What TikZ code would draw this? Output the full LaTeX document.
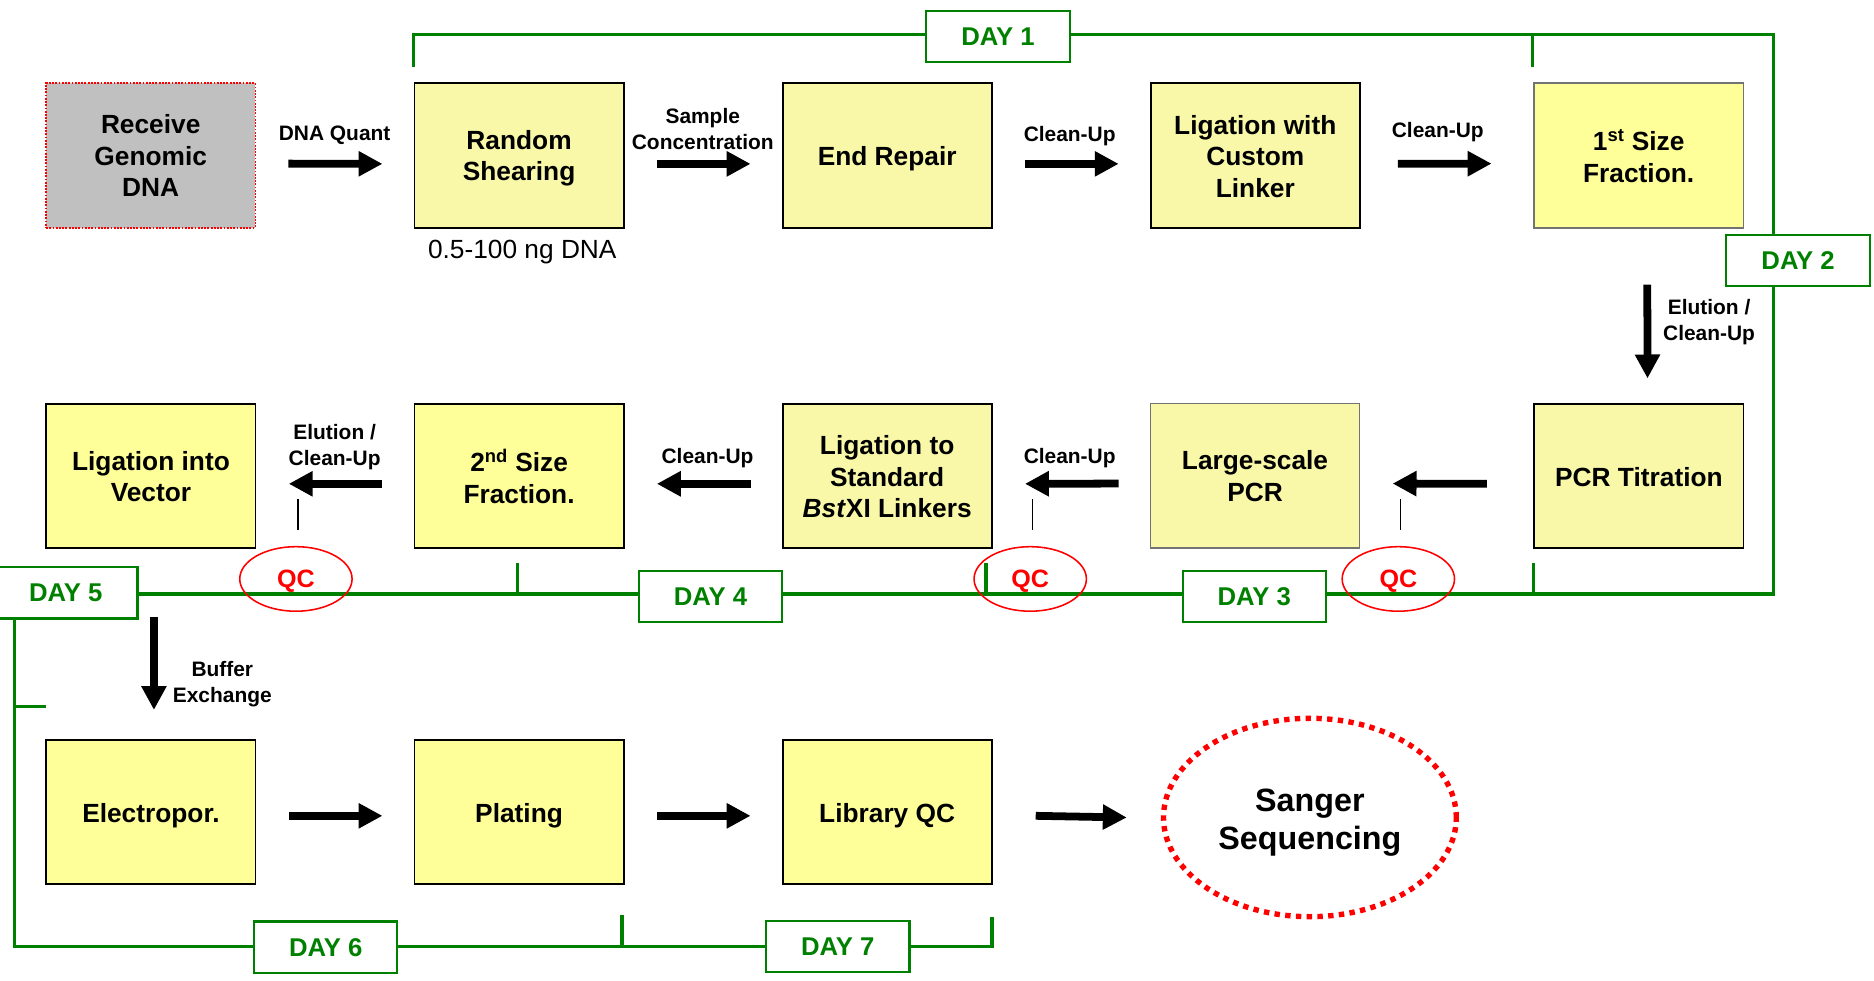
\documentclass[tikz,border=0pt]{standalone}
\usepackage{fontspec}
\setmainfont{Liberation Sans}
\usetikzlibrary{arrows.meta,calc,shapes.geometric,backgrounds}
\definecolor{boxA}{HTML}{F8F8A8}
\definecolor{boxB}{HTML}{FFFF99}
\definecolor{dgreen}{HTML}{008000}
\definecolor{grayfill}{HTML}{C0C0C0}
\begin{document}
\begin{tikzpicture}[x=1pt,y=-1pt,
  procbox/.style={draw=black, line width=1.6pt, fill=boxA, minimum width=175pt, minimum height=121pt,
    inner sep=0pt, anchor=north west},
  brightbox/.style={procbox, fill=boxB},
  graybox/.style={draw=black!55, line width=1.2pt},
  boxtext/.style={inner sep=0pt, align=center, yshift=-0.5pt, font=\bfseries\fontsize{22}{26.5}\selectfont},
  lbl/.style={inner sep=0pt, align=center, font=\bfseries\fontsize{17.5}{21.5}\selectfont},
  daybox/.style={draw=dgreen, line width=1.8pt, fill=white, minimum width=120pt, minimum height=43pt,
    inner sep=0pt, text=dgreen, font=\bfseries\fontsize{21.5}{25}\selectfont},
  qc/.style={ellipse, draw=red, line width=1.3pt, minimum width=94pt, minimum height=54pt, inner sep=0pt},
  qctext/.style={inner sep=0pt, text=red, yshift=-1.5pt, font=\bfseries\fontsize{21}{25}\selectfont},
  bigarr/.style={line width=6.5pt, -{Triangle[width=20pt,length=20pt]}},
  gline/.style={draw=dgreen, line width=2.8pt},
  thinl/.style={draw=black, line width=1pt}]
\useasboundingbox (0,0) rectangle (1568,820);

% Row 1
\node[procbox, fill=grayfill, draw=red, line width=1.2pt, dash pattern=on 1.5pt off 1.2pt,
  label={[boxtext,yshift=0.5pt]center:{Receive\\Genomic\\DNA}}] (recv) at (38,69) {};
\node[procbox, label={[boxtext,yshift=-1.5pt]center:{Random\\Shearing}}] (shear) at (346,69) {};
\node[procbox, label={[boxtext,yshift=-2pt]center:{End Repair}}] (endr) at (654,69) {};
\node[procbox, label={[boxtext]center:{Ligation with\\Custom\\Linker}}] (lig1) at (962,69) {};
\node[brightbox, graybox, label={[boxtext]center:{1\textsuperscript{st} Size\\Fraction.}}] (frac1) at (1283,69) {};

% Row 2
\node[brightbox, label={[boxtext]center:{Ligation into\\Vector}}] (vec) at (38,337) {};
\node[brightbox, label={[boxtext]center:{2\textsuperscript{nd} Size\\Fraction.}}] (frac2) at (346,337) {};
\node[procbox, label={[boxtext]center:{Ligation to\\Standard\\\textit{Bst}XI Linkers}}] (lig2) at (654,337) {};
\node[procbox, graybox, label={[boxtext]center:{Large-scale\\PCR}}] (lpcr) at (962,337) {};
\node[procbox, label={[boxtext]center:{PCR Titration}}] (pcrt) at (1283,337) {};

% Row 3
\node[brightbox, label={[boxtext,yshift=-2.5pt]center:{Electropor.}}] (elec) at (38,618) {};
\node[brightbox, label={[boxtext,yshift=-2.5pt]center:{Plating}}] (plat) at (346,618) {};
\node[brightbox, label={[boxtext,yshift=-2.5pt]center:{Library QC}}] (libqc) at (654,618) {};
\node[ellipse, draw=red, line width=4.5pt, dash pattern=on 4.5pt off 4.5pt, minimum width=245pt, minimum height=166pt,
  inner sep=0pt, label={[inner sep=0pt, align=center, yshift=-4pt, font=\bfseries\fontsize{27}{32}\selectfont]center:{Sanger\\Sequencing}}] (sanger) at (1096,684) {};

% QC ellipses
\node[qc, label={[qctext]center:QC}] (qc1) at (247.6,484.4) {};
\node[qc, label={[qctext]center:QC}] (qc2) at (862,484.4) {};
\node[qc, label={[qctext]center:QC}] (qc3) at (1170,484.4) {};

% Day boxes
\node[daybox] (day1) at (835,30.5) {DAY 1};
\node[daybox] (day2) at (1504.5,218) {DAY 2};
\node[daybox] (day3) at (1049.5,499) {DAY 3};
\node[daybox] (day4) at (594.5,499) {DAY 4};
\node[daybox] (day5) at (55,496) {DAY 5};
\node[daybox] (day6) at (272.5,792.5) {DAY 6};
\node[daybox] (day7) at (701,792) {DAY 7};

% Green timeline (drawn behind the day boxes)
\coordinate (tl) at (346,29);
\coordinate (tr) at (1484,29);
\coordinate (br) at (1484,497);
\coordinate (bl) at (12,497);
\coordinate (bb) at (12,792);
\coordinate (be) at (830,792);
\begin{scope}[on background layer]
\draw[gline] ($(tl)+(0,26.8)$) -- (tl) -- (tr) -- (br) -- (bl) -- (bb) -- (be) -- ($(be)+(0,-25)$);
\draw[gline] (1282,29) -- (1282,55.8);
\draw[gline] (433,497) -- (433,471.4);
\draw[gline] (825,497) -- (825,471.4);
\draw[gline] (1283,497) -- (1283,471.4);
\draw[gline] (12,591.3) -- (38.6,591.3);
\draw[gline] (520.3,792) -- (520.3,765.7);
\end{scope}

% Row 1 arrows
\draw[bigarr] ($(recv.east)+(27,6.8)$) -- ($(shear.west)+(-26,6.8)$);
\draw[bigarr] ($(shear.east)+(27,6.8)$) -- ($(endr.west)+(-26,6.8)$);
\draw[bigarr] ($(endr.east)+(27,6.8)$) -- ($(lig1.west)+(-26,6.8)$);
\draw[bigarr] ($(lig1.east)+(31,6.8)$) -- ($(frac1.west)+(-35,6.8)$);
\draw[bigarr] ($(frac1.south)+(7.2,47)$) -- ($(pcrt.north)+(7.2,-20.4)$);

% Row 2 arrows
\draw[bigarr] ($(pcrt.west)+(-39,6.5)$) -- ($(lpcr.east)+(27,6.5)$);
\draw[bigarr] ($(lpcr.west)+(-26,6.5)$) -- ($(lig2.east)+(27,6.5)$);
\draw[bigarr] ($(lig2.west)+(-26,6.5)$) -- ($(frac2.east)+(27,6.5)$);
\draw[bigarr] ($(frac2.west)+(-26,6.5)$) -- ($(vec.east)+(27,6.5)$);
\draw[bigarr] ($(vec.south)+(2.5,56.6)$) -- ($(elec.north)+(2.5,-24)$);

% Row 3 arrows
\draw[bigarr] ($(elec.east)+(27,3.3)$) -- ($(plat.west)+(-26,3.3)$);
\draw[bigarr] ($(plat.east)+(27,3.3)$) -- ($(libqc.west)+(-26,3.3)$);
\coordinate (a3) at ($(libqc.east)+(36,3.3)$);
\draw[bigarr] (a3) -- ($(sanger.west)+(-28.5,0)$ |- a3);

% thin QC lines
\draw[thinl] ($(qc1.north)+(1.8,-13.5)$) -- ($(qc1.north)+(1.8,-39.5)$);
\draw[thinl] ($(qc2.north)+(2,-13.5)$) -- ($(qc2.north)+(2,-39.5)$);
\draw[thinl] ($(qc3.north)+(1.5,-13.5)$) -- ($(qc3.north)+(1.5,-39.5)$);

% labels
\node[lbl] (l1) at (280,113.5) {DNA Quant};
\node[lbl] (l2) at (588,108) {Sample\\Concentration};
\node[lbl] (l3) at (895,113.5) {Clean-Up};
\node[lbl] (l4) at (1203,110.5) {Clean-Up};
\node[lbl] (l5) at (1430,269.5) {Elution /\\Clean-Up};
\node[lbl] (l6) at (280,374) {Elution /\\Clean-Up};
\node[lbl] (l7) at (592,383.5) {Clean-Up};
\node[lbl] (l8) at (895,383.5) {Clean-Up};
\node[lbl] (l9) at (186,572.5) {Buffer\\Exchange};
\node[inner sep=0pt, font=\fontsize{22}{26}\selectfont] (amt) at (437,211) {0.5-100 ng DNA};
\end{tikzpicture}
\end{document}
